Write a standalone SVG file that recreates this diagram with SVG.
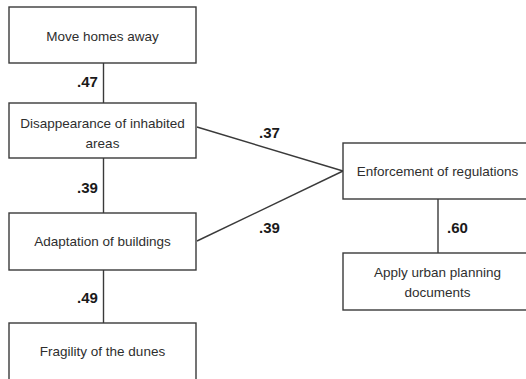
<svg xmlns="http://www.w3.org/2000/svg" width="526" height="379" viewBox="0 0 526 379">
<style>
.box{fill:#fff;stroke:#3a3a3a;stroke-width:1.4}
.t{font-family:"Liberation Sans",Arial,sans-serif;font-size:13.5px;fill:#2e2e2e;text-anchor:middle}
.l{font-family:"Liberation Sans",Arial,sans-serif;font-size:15px;font-weight:bold;fill:#1a1a1a}
.c{stroke:#3a3a3a;stroke-width:1.4;fill:none}
</style>
<rect width="526" height="379" fill="#fff"/>
<g id="connectors">
<line class="c" x1="103.5" y1="63" x2="103.5" y2="103"/>
<line class="c" x1="103.5" y1="158" x2="103.5" y2="213"/>
<line class="c" x1="103.5" y1="270" x2="103.5" y2="323"/>
<line class="c" x1="197" y1="127" x2="343" y2="171"/>
<line class="c" x1="197" y1="241" x2="343" y2="171"/>
<line class="c" x1="438" y1="199" x2="438" y2="253"/>
<text class="l" x="77" y="87">.47</text>
<text class="l" x="77" y="193">.39</text>
<text class="l" x="77" y="303">.49</text>
<text class="l" x="259" y="138">.37</text>
<text class="l" x="259" y="233">.39</text>
<text class="l" x="447" y="233">.60</text>
</g>
<g id="move-homes">
<rect class="box" x="9" y="7" width="187" height="56"/>
<text class="t" x="102.5" y="41">Move homes away</text>
</g>
<g id="disappearance">
<rect class="box" x="9" y="103" width="187" height="55"/>
<text class="t" x="102.5" y="128">Disappearance of inhabited</text>
<text class="t" x="102.5" y="148">areas</text>
</g>
<g id="adaptation">
<rect class="box" x="9" y="213" width="187" height="57"/>
<text class="t" x="102.5" y="246">Adaptation of buildings</text>
</g>
<g id="fragility">
<rect class="box" x="9" y="323" width="187" height="70"/>
<text class="t" x="102.5" y="356">Fragility of the dunes</text>
</g>
<g id="enforcement">
<rect class="box" x="343" y="143" width="195" height="56"/>
<text class="t" x="437.5" y="176">Enforcement of regulations</text>
</g>
<g id="apply">
<rect class="box" x="343" y="253" width="195" height="57"/>
<text class="t" x="437.5" y="277">Apply urban planning</text>
<text class="t" x="437.5" y="297">documents</text>
</g>
</svg>
